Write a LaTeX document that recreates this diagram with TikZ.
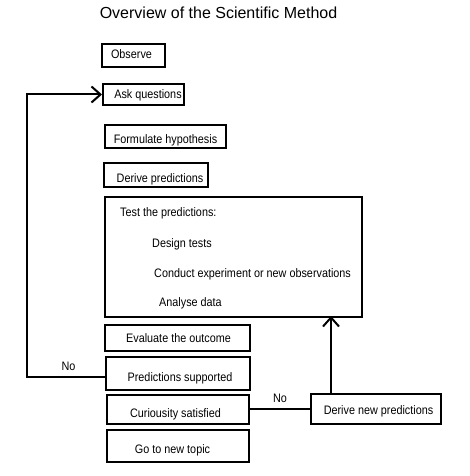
\documentclass[tikz,border=0pt]{standalone}
\usepackage{fontspec}
\setmainfont{Liberation Sans}
\newfontfamily\boxfont[FakeStretch=0.88]{Liberation Sans}
\usetikzlibrary{arrows.meta}
\newcommand{\padL}[2]{\hspace*{#1}#2}
\newcommand{\padR}[2]{#2\hspace*{#1}}
\begin{document}
\begin{tikzpicture}[x=1pt,y=-1pt,
  stepbox/.style={draw,line width=2pt,inner sep=0pt,text height=9pt,text depth=0.2pt,font=\boxfont\fontsize{12.3}{14}\selectfont},
  txt/.style={inner sep=0pt,text height=9pt,text depth=0.2pt,font=\boxfont\fontsize{12.3}{14}\selectfont},
  down/.style={text height=#1},
  link/.style={line width=2pt},
  head/.style={-{Straight Barb[length=9pt,width=16pt,line width=2pt]}}]
\useasboundingbox (0,0) rectangle (470,476);
\node[inner sep=0pt,font=\fontsize{16}{18}\selectfont] (title) at (218.5,13) {Overview of the Scientific Method};
\node[stepbox,minimum width=63pt,minimum height=23pt,text height=7pt] (obs) at (133.5,55.5) {\padR{4pt}{Observe}};
\node[stepbox,minimum width=81pt,minimum height=21pt] (ask) at (143.5,94.5) {\padL{9pt}{Ask questions}};
\node[stepbox,minimum width=121pt,minimum height=23pt,down=14pt] (form) at (165.5,136.5) {Formulate hypothesis};
\node[stepbox,minimum width=104pt,minimum height=24pt,down=15pt] (der) at (156,175) {\padL{8pt}{Derive predictions}};
\node[stepbox,minimum width=257pt,minimum height=120pt] (test) at (233.5,257) {};
\node[txt,anchor=west] (t1) at (120,212) {Test the predictions:};
\node[txt,anchor=west] (t2) at (152,243) {Design tests};
\node[txt,anchor=west] (t3) at (154,273) {Conduct experiment or new observations};
\node[txt,anchor=west] (t4) at (159,302) {Analyse data};
\node[stepbox,minimum width=145pt,minimum height=26pt] (eval) at (177.5,338) {\padL{2pt}{Evaluate the outcome}};
\node[stepbox,minimum width=144pt,minimum height=33pt,down=15.4pt] (supp) at (178,373.5) {\padL{4pt}{Predictions supported}};
\node[stepbox,minimum width=142pt,minimum height=29pt,down=16pt] (cur) at (178,409.5) {\padR{5pt}{Curiousity satisfied}};
\node[stepbox,minimum width=142pt,minimum height=32pt,down=14.4pt] (go) at (178,446) {\padR{11pt}{Go to new topic}};
\node[stepbox,minimum width=130pt,minimum height=30pt,down=11pt] (dnp) at (376,409) {\padL{5pt}{Derive new predictions}};
\coordinate (lb) at (27,377);
\coordinate (lt) at (27,94.5);
\draw[link,head] (supp.west |- lb) -- (lb) -- (lt) -- (ask.west);
\node[txt] (no1) at (68.5,366) {No};
\draw[link] (cur.east |- dnp.west) -- (dnp.west);
\node[txt] (no2) at (280,398) {No};
\draw[link,head] (dnp.north -| 331,0) -- ([yshift=2pt]test.south -| 331,0);
\end{tikzpicture}
\end{document}
